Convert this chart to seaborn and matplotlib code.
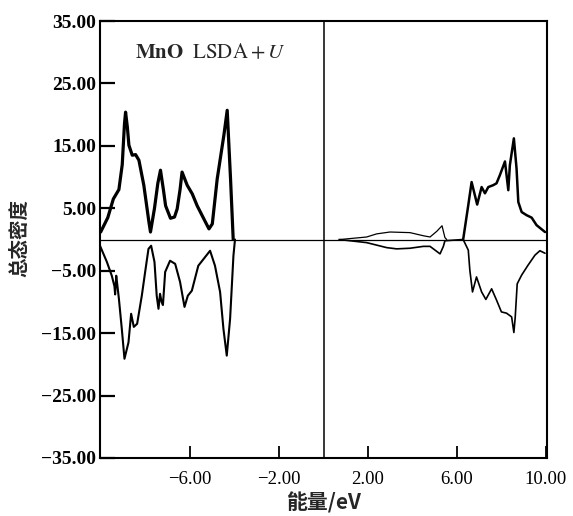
import matplotlib
matplotlib.use("Agg")
import matplotlib.pyplot as plt
import seaborn as sns
import pandas as pd

# ---- data ----
up_vb_e = [-10.02, -9.7, -9.45, -9.2, -9.05, -8.95, -8.9, -8.82, -8.75, -8.6, -8.45, -8.3, -8.08, -7.85, -7.78,
           -7.6, -7.45, -7.33, -7.2, -7.1, -6.88, -6.7, -6.58, -6.45, -6.36, -6.13, -5.9, -5.68, -5.38, -5.15,
           -5.0, -4.78, -4.48, -4.33, -4.18, -4.06]
up_vb_dos = [1.2, 3.5, 6.5, 8.0, 12.0, 18.5, 20.4, 18.0, 15.1, 13.5, 13.6, 12.7, 8.7, 2.8, 1.2,
             5.0, 9.0, 11.1, 8.0, 5.4, 3.4, 3.6, 4.9, 8.0, 10.8, 8.7, 7.3, 5.4, 3.3, 1.7,
             2.5, 9.7, 16.7, 20.7, 9.7, 0.0]

dn_vb_e = [-10.05, -9.74, -9.52, -9.4, -9.37, -9.32, -9.28, -9.2, -9.07, -8.95, -8.77, -8.65, -8.53, -8.38,
           -8.17, -8.02, -7.87, -7.75, -7.6, -7.5, -7.42, -7.35, -7.28, -7.22, -7.12, -6.9, -6.67, -6.45,
           -6.25, -6.1, -5.92, -5.63, -5.1, -4.88, -4.65, -4.5, -4.35, -4.2, -4.05, -3.98]
dn_vb_dos = [-1.0, -3.6, -5.8, -7.5, -8.8, -5.8, -7.0, -9.5, -14.3, -19.1, -16.5, -11.9, -14.0, -13.5,
             -9.0, -5.2, -1.5, -1.0, -3.6, -9.0, -11.1, -8.7, -10.0, -10.5, -5.2, -3.4, -3.9, -6.8,
             -10.8, -9.0, -8.2, -4.2, -1.8, -4.2, -8.4, -14.3, -18.6, -12.7, -2.6, 0.0]

up_gap_e = [0.75, 1.94, 2.39, 2.99, 3.89, 4.49, 4.79, 5.09, 5.33, 5.46, 5.54]
up_gap_dos = [0.0, 0.4, 0.9, 1.2, 1.1, 0.6, 0.4, 1.3, 2.2, 0.3, 0.0]

up_cb_e = [6.28, 6.51, 6.66, 6.91, 7.11, 7.26, 7.41, 7.63, 7.78, 7.93, 8.16, 8.31, 8.38, 8.56, 8.68,
           8.76, 8.91, 9.13, 9.36, 9.58, 9.96]
up_cb_dos = [0.0, 5.5, 9.2, 5.6, 8.4, 7.4, 8.4, 8.7, 9.0, 10.3, 12.5, 7.9, 11.9, 16.2, 11.4,
             6.0, 4.4, 3.9, 3.5, 2.3, 1.2]

dn_cb_e = [0.7, 1.94, 2.84, 3.29, 3.89, 4.49, 4.79, 5.09, 5.24, 5.39, 5.46, 6.28, 6.51, 6.58, 6.7,
           6.88, 7.11, 7.3, 7.56, 7.78, 8.0, 8.23, 8.46, 8.56, 8.62, 8.71, 8.91, 9.2, 9.51, 9.73, 9.96]
dn_cb_dos = [0.0, -0.5, -1.3, -1.5, -1.4, -1.1, -1.1, -1.9, -2.3, -1.1, -0.2, 0.0, -1.7, -4.9, -8.4,
             -6.0, -8.4, -9.6, -7.9, -9.7, -11.6, -11.8, -12.4, -14.9, -12.5, -7.1, -5.7, -4.1, -2.5, -1.8, -2.2]

y_ticks = [35, 25, 15, 5, -5, -15, -25, -35]
y_ticklabels = ["35.00", "25.00", "15.00", "5.00", "\u22125.00", "\u221215.00", "\u221225.00", "\u221235.00"]
x_ticks = [-6, -2, 2, 6, 10]
x_ticklabels = ["\u22126.00", "\u22122.00", "2.00", "6.00", "10.00"]

# ---- plot ----
sns.set_style("ticks")
plt.rcParams["font.family"] = ["Liberation Serif", "DejaVu Serif"]
plt.rcParams["mathtext.fontset"] = "stix"
plt.rcParams["axes.unicode_minus"] = True

fig = plt.figure(figsize=(5.73, 5.16), dpi=100)
ax = fig.add_axes([100 / 573, 1 - 458 / 516, 447 / 573, 437 / 516])

def draw(e, d, lw):
    df = pd.DataFrame({"e": e, "d": d})
    sns.lineplot(data=df, x="e", y="d", ax=ax, color="black", lw=lw, sort=False, estimator=None)

draw(up_vb_e, up_vb_dos, 2.3)
draw(dn_vb_e, dn_vb_dos, 1.5)
draw(up_gap_e, up_gap_dos, 0.9)
draw(up_cb_e, up_cb_dos, 1.8)
draw(dn_cb_e, dn_cb_dos, 1.2)

ax.axhline(0, color="black", lw=0.9, zorder=1)
ax.axvline(0, color="black", lw=1.1, zorder=1)

ax.set_xlim(-10.05, 10.05)
ax.set_ylim(-35, 35)
ax.set_yticks(y_ticks)
ax.set_yticklabels(y_ticklabels, fontsize=14, fontweight="bold")
ax.set_xticks(x_ticks)
ax.set_xticklabels(x_ticklabels, fontsize=13.5)
ax.tick_params(axis="y", direction="in", length=11, width=1.6, pad=3, colors="black")
ax.tick_params(axis="x", direction="in", length=9, width=1.3, pad=9, colors="black")
for s in ax.spines.values():
    s.set_visible(True)
    s.set_linewidth(1.5)
    s.set_color("black")

ax.set_xlabel("")
ax.set_ylabel("")
fig.text(20 / 573, 1 - 238 / 516, "总态密度", rotation=90, ha="center", va="center",
         fontsize=14, fontweight="bold", family=["Noto Sans CJK SC", "DejaVu Sans"])
fig.text(323 / 573, 1 - 503 / 516, "能量/eV", ha="center", va="center",
         fontsize=15, fontweight="bold", family=["Noto Sans CJK SC", "DejaVu Sans"])
fig.text(135 / 573, 1 - 53 / 516, r"$\mathbf{MnO}\ \ \mathrm{LSDA}+U$", fontsize=15,
         ha="left", va="center")

fig.savefig("out.png", dpi=100)
